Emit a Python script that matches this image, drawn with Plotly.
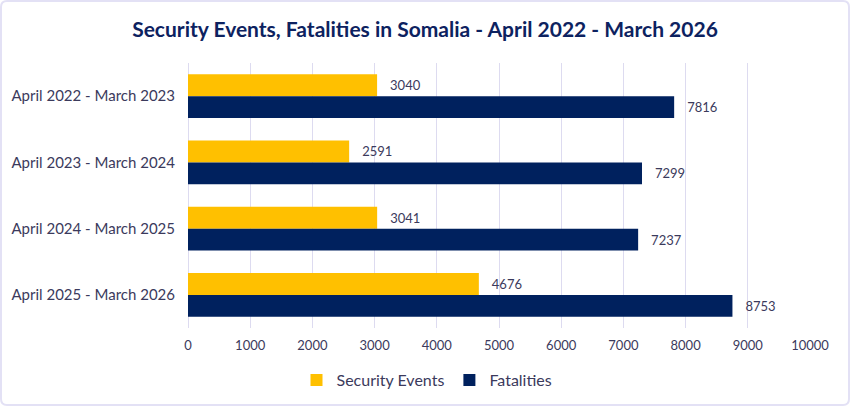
import plotly.graph_objects as go

periods = ["April 2022 - March 2023", "April 2023 - March 2024",
           "April 2024 - March 2025", "April 2025 - March 2026"]
security_events = [3040, 2591, 3041, 4676]
fatalities = [7816, 7299, 7237, 8753]
x_ticks = [0, 1000, 2000, 3000, 4000, 5000, 6000, 7000, 8000, 9000, 10000]

YELLOW = "#ffc000"
NAVY = "#00215e"
TEXT = "#3b3a5c"
GRID = "#dddbf0"

W, H = 850, 406
ML, MR, MT, MB = 188, 40, 63, 78
PW, PH = W - ML - MR, H - MT - MB

fig = go.Figure()
fig.add_trace(go.Bar(y=periods, x=security_events, name="Security Events", orientation="h",
                     marker=dict(color=YELLOW, line=dict(width=0)),
                     text=security_events, texttemplate="   %{x}", textposition="outside",
                     textfont=dict(color=TEXT, size=13), cliponaxis=False))
fig.add_trace(go.Bar(y=periods, x=fatalities, name="Fatalities", orientation="h",
                     marker=dict(color=NAVY, line=dict(width=0)),
                     text=fatalities, texttemplate="   %{x}", textposition="outside",
                     textfont=dict(color=TEXT, size=13), cliponaxis=False))

# rounded border around whole figure (paper coords)
def px_x(p):
    return (p - ML) / PW
def px_y(p):
    return 1 - (p - MT) / PH

x0, x1, y0, y1, r = 1, W - 1, 1, H - 1, 6
path = (f"M {px_x(x0 + r)},{px_y(y0)} L {px_x(x1 - r)},{px_y(y0)} "
        f"Q {px_x(x1)},{px_y(y0)} {px_x(x1)},{px_y(y0 + r)} "
        f"L {px_x(x1)},{px_y(y1 - r)} Q {px_x(x1)},{px_y(y1)} {px_x(x1 - r)},{px_y(y1)} "
        f"L {px_x(x0 + r)},{px_y(y1)} Q {px_x(x0)},{px_y(y1)} {px_x(x0)},{px_y(y1 - r)} "
        f"L {px_x(x0)},{px_y(y0 + r)} Q {px_x(x0)},{px_y(y0)} {px_x(x0 + r)},{px_y(y0)} Z")

fig.update_layout(
    width=W, height=H,
    margin=dict(l=ML, r=MR, t=MT, b=MB, autoexpand=False),
    paper_bgcolor="white", plot_bgcolor="white",
    font=dict(family="Lato, Open Sans, sans-serif", color=TEXT, size=13),
    title=dict(text="<b>Security Events, Fatalities in Somalia - April 2022 - March 2026</b>",
               x=0.5, xref="container", xanchor="center", y=1 - 30 / H, yanchor="middle",
               font=dict(size=21, color="#0d2260")),
    barmode="group", bargap=0.34, bargroupgap=0,
    xaxis=dict(range=[0, 10000], tickvals=x_ticks, ticktext=[str(v) for v in x_ticks],
               showgrid=True, gridcolor=GRID, gridwidth=1,
               zeroline=True, zerolinecolor=GRID, zerolinewidth=1, showline=False,
               tickfont=dict(size=13, color=TEXT), ticks="", ticklabelstandoff=8),
    yaxis=dict(autorange="reversed", showgrid=False, showline=False, ticks="",
               tickfont=dict(size=15, color=TEXT), ticklabelstandoff=12),
    legend=dict(orientation="h", x=px_x(427), xanchor="center",
                y=px_y(380), yanchor="middle",
                font=dict(size=16, color=TEXT), traceorder="normal",
                itemwidth=30),
    shapes=[dict(type="path", path=path, xref="paper", yref="paper",
                 line=dict(color="#e3e1f5", width=2), fillcolor="rgba(0,0,0,0)", layer="below")],
    showlegend=True,
)

fig.write_html("out.html")
